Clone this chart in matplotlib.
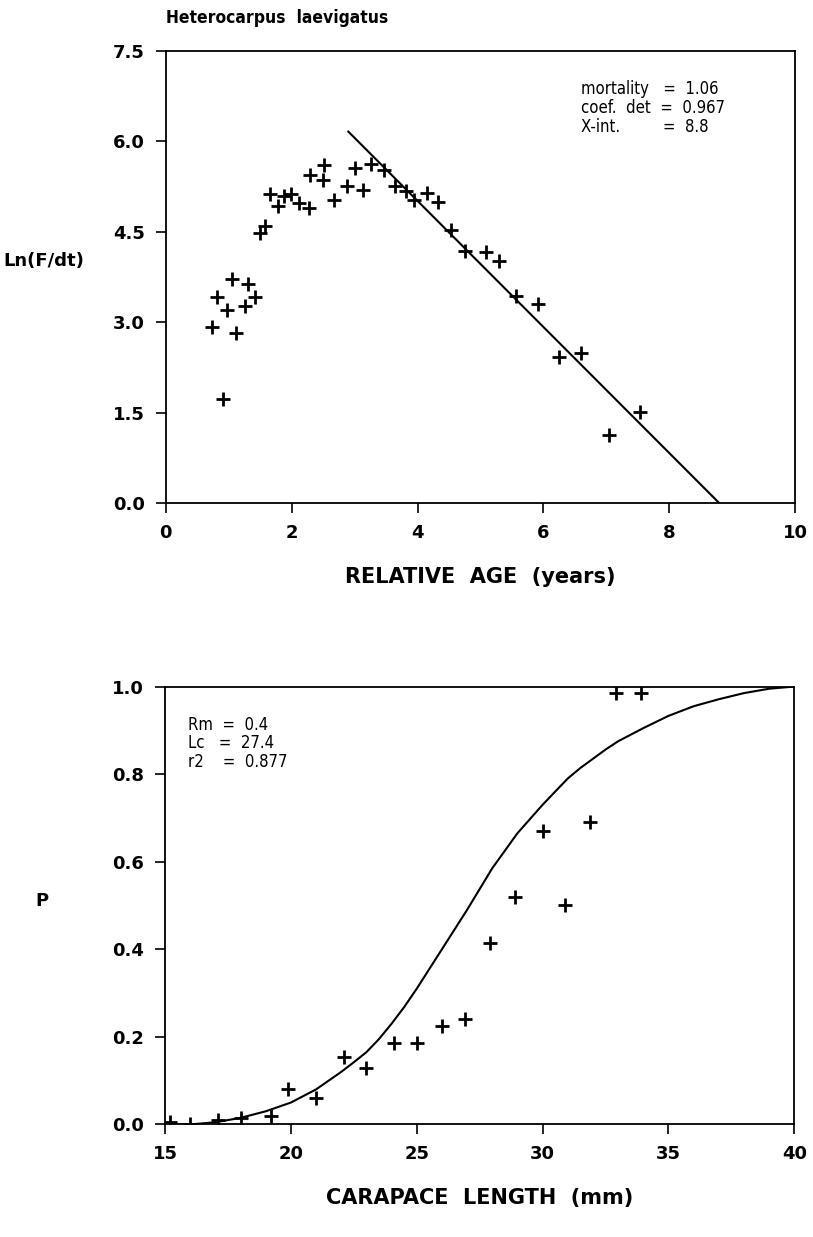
import matplotlib
matplotlib.use("Agg")
import matplotlib.pyplot as plt
import numpy as np

# ---- top panel: catch curve ----
age = [0.73, 0.81, 0.91, 0.97, 1.05, 1.12, 1.26, 1.31, 1.42, 1.49, 1.58, 1.66,
       1.79, 1.87, 1.99, 2.11, 2.28, 2.29, 2.49, 2.52, 2.68, 2.88, 3.00, 3.14,
       3.26, 3.46, 3.64, 3.81, 3.94, 4.15, 4.33, 4.53, 4.76, 5.08, 5.29, 5.57,
       5.92, 6.25, 6.60, 7.05, 7.53]
ln_f = [2.93, 3.42, 1.73, 3.21, 3.72, 2.83, 3.27, 3.64, 3.42, 4.48, 4.60, 5.12,
        4.92, 5.09, 5.12, 4.98, 4.90, 5.44, 5.36, 5.60, 5.03, 5.26, 5.56, 5.19,
        5.63, 5.52, 5.26, 5.18, 5.03, 5.14, 4.99, 4.53, 4.18, 4.17, 4.01, 3.44,
        3.30, 2.42, 2.49, 1.14, 1.52]
fit_x = [2.9, 8.8]
fit_y = [6.16, 0.0]

# ---- bottom panel: selection ogive ----
length = [15.2, 16.0, 17.1, 18.0, 19.2, 19.9, 21.0, 22.1, 23.0, 24.1, 25.0,
          26.0, 26.9, 27.9, 28.9, 30.0, 30.9, 31.9, 32.9, 33.9]
prop = [0.005, 0.0, 0.01, 0.015, 0.02, 0.08, 0.06, 0.155, 0.13, 0.185, 0.185,
        0.225, 0.24, 0.415, 0.52, 0.67, 0.50, 0.69, 0.985, 0.985]
curve_x = [15, 16, 17, 18, 19, 20, 21, 22, 22.5, 23, 23.5, 24, 24.5, 25, 26,
           27, 28, 29, 30, 31, 31.5, 32, 32.5, 33, 34, 35, 36, 37, 38, 39, 40]
curve_y = [0.0, 0.0, 0.005, 0.015, 0.03, 0.05, 0.08, 0.12, 0.142, 0.165, 0.195,
           0.23, 0.268, 0.31, 0.40, 0.49, 0.585, 0.665, 0.73, 0.79, 0.814,
           0.835, 0.856, 0.875, 0.905, 0.933, 0.955, 0.971, 0.985, 0.995, 1.0]

plt.rcParams['font.family'] = ['DejaVu Sans']

fig = plt.figure(figsize=(8.13, 12.37), dpi=100)
ax1 = fig.add_axes([0.204, 0.593, 0.774, 0.366])
ax2 = fig.add_axes([0.203, 0.091, 0.774, 0.354])

mk = dict(marker='+', linestyle='none', color='black', markersize=10, markeredgewidth=2)
note_font = dict(fontsize=12, fontstretch='condensed', linespacing=1.05)

def style_axes(ax):
    for s in ax.spines.values():
        s.set_linewidth(1.3)
    ax.tick_params(direction='out', length=7, width=1.2, pad=8)
    for lab in ax.get_xticklabels() + ax.get_yticklabels():
        lab.set_fontsize(13)
        lab.set_fontweight('bold')

# top
ax1.plot(age, ln_f, **mk)
ax1.plot(fit_x, fit_y, color='black', linewidth=1.5)
ax1.set_xlim(0, 10)
ax1.set_ylim(0, 7.5)
ax1.set_xticks([0, 2, 4, 6, 8, 10])
ax1.set_yticks([0, 1.5, 3.0, 4.5, 6.0, 7.5])
ax1.set_yticklabels(['0.0', '1.5', '3.0', '4.5', '6.0', '7.5'])
style_axes(ax1)
ax1.set_xlabel('RELATIVE  AGE  (years)', fontsize=15, fontweight='bold', labelpad=18)
ax1.set_ylabel('Ln(F/dt)', fontsize=13, fontweight='bold', rotation=0, ha='right', va='center')
ax1.yaxis.set_label_coords(-0.13, 0.535)
ax1.text(0.0, 1.072, 'Heterocarpus  laevigatus', transform=ax1.transAxes,
         fontsize=12.5, fontweight='bold', fontstretch='condensed', ha='left', va='center')
ax1.text(6.6, 6.55, 'mortality   =  1.06\ncoef.  det  =  0.967\nX-int.         =  8.8',
         ha='left', va='center', **note_font)

# bottom
ax2.plot(length, prop, **mk)
ax2.plot(curve_x, curve_y, color='black', linewidth=1.5)
ax2.set_xlim(15, 40)
ax2.set_ylim(0, 1.0)
ax2.set_xticks([15, 20, 25, 30, 35, 40])
ax2.set_yticks([0, 0.2, 0.4, 0.6, 0.8, 1.0])
ax2.set_yticklabels(['0.0', '0.2', '0.4', '0.6', '0.8', '1.0'])
style_axes(ax2)
ax2.set_xlabel('CARAPACE  LENGTH  (mm)', fontsize=15, fontweight='bold', labelpad=18)
ax2.set_ylabel('P', fontsize=13, fontweight='bold', rotation=0, ha='right', va='center')
ax2.yaxis.set_label_coords(-0.185, 0.51)
ax2.text(15.9, 0.87, 'Rm  =  0.4\nLc   =  27.4\nr2    =  0.877',
         ha='left', va='center', **note_font)

fig.savefig('out.png', dpi=100)
